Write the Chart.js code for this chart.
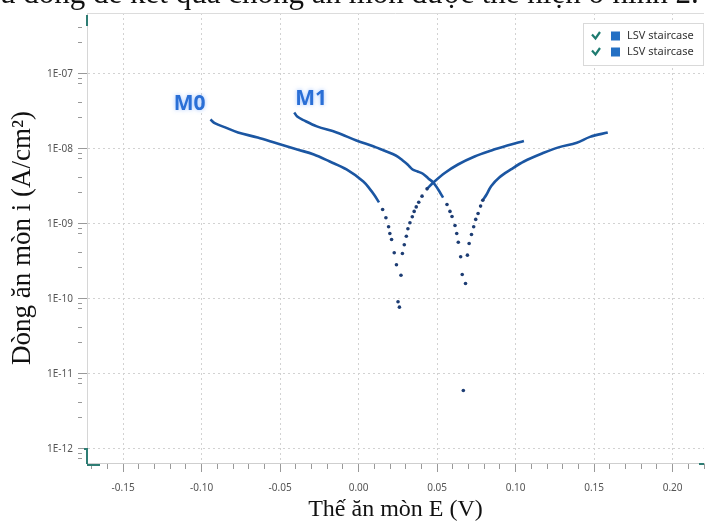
<!DOCTYPE html>
<html><head><meta charset="utf-8">
<script src="https://cdn.jsdelivr.net/npm/chart.js@4.4.0/dist/chart.umd.min.js"></script>
<style>
html,body{margin:0;padding:0;background:#fff;overflow:hidden}
#wrap{position:relative;width:714px;height:525px;overflow:hidden}
canvas{position:absolute;left:0;top:0}
#cap{position:absolute;left:0;top:-23px;white-space:nowrap;font-family:"Liberation Serif",serif;font-size:31px;line-height:31px;color:#111}
</style></head><body>
<div id="wrap"><canvas id="c" width="714" height="525"></canvas><div id="cap">u đồng đề kết quả chống ăn mòn được thể hiện ở hình 2.</div></div>
<script>
// ---- axis ranges and ticks ----
const xMin = -0.173, xMax = 0.22;
const yMin = 6.5e-13, yMax = 6.5e-7;
const xMajor = [-0.15, -0.10, -0.05, 0.00, 0.05, 0.10, 0.15, 0.20];
const xMinorStep = 0.01;
const yDecadeExp = [-12, -11, -10, -9, -8, -7];
const yMinorMant = [2.6, 4.2, 7.4, 8.6];
const seriesLabels = ['LSV staircase', 'LSV staircase'];
const curveNames = ['M0', 'M1'];
const nameE = [-0.1076, -0.0303];
const nameI = [4.0e-8, 4.6e-8];

// ---- M0 ----
const m0CathE = [-0.0944,-0.0913,-0.0850,-0.0768,-0.0643,-0.0517,-0.0391,-0.0285,-0.0184,-0.0077,0.0030,0.0072,0.0100,0.0130];
const m0CathI = [2.47e-8,2.19e-8,1.94e-8,1.66e-8,1.42e-8,1.18e-8,9.84e-9,8.45e-9,6.81e-9,5.33e-9,3.69e-9,2.92e-9,2.44e-9,1.94e-9];
const m0DotE = [0.0153,0.0174,0.0191,0.0199,0.0210,0.0227,0.0241,0.0251,0.0260,0.0270,0.0279,0.0291,0.0304,0.0314,0.0327,0.0342,0.0354,0.0367,0.0383,0.0404,0.0436];
const m0DotI = [1.56e-9,1.21e-9,9.18e-10,7.46e-10,6.21e-10,4.13e-10,2.86e-10,9.19e-11,7.78e-11,2.07e-10,4.04e-10,5.28e-10,6.87e-10,8.63e-10,1.04e-9,1.25e-9,1.47e-9,1.69e-9,1.95e-9,2.35e-9,2.94e-9];
const m0AnoE = [0.0436,0.0476,0.0551,0.0633,0.0739,0.0846,0.0947,0.1053];
const m0AnoI = [2.94e-9,3.57e-9,4.82e-9,6.21e-9,7.94e-9,9.55e-9,1.11e-8,1.28e-8];

// ---- M1 ----
const m1CathE = [-0.0410,-0.0391,-0.0347,-0.0266,-0.0140,-0.0014,0.0111,0.0237,0.0281,0.0312,0.0344,0.0375,0.0407,0.0444,0.0476,0.0507,0.0538];
const m1CathI = [3.07e-8,2.71e-8,2.40e-8,2.00e-8,1.66e-8,1.30e-8,1.05e-8,8.19e-9,7.03e-9,6.21e-9,5.33e-9,5.01e-9,4.71e-9,4.05e-9,3.57e-9,2.88e-9,2.25e-9];
const m1DotE = [0.0563,0.0582,0.0595,0.0614,0.0625,0.0635,0.0650,0.0660,0.0667,0.0681,0.0693,0.0704,0.0719,0.0733,0.0746,0.0761,0.0777,0.0791];
const m1DotI = [1.82e-9,1.47e-9,1.26e-9,9.55e-10,7.46e-10,5.71e-10,3.66e-10,2.12e-10,6.03e-12,1.61e-10,3.84e-10,5.50e-10,7.24e-10,9.18e-10,1.15e-9,1.38e-9,1.73e-9,2.07e-9];
const m1AnoE = [0.0791,0.0815,0.0844,0.0896,0.0970,0.1053,0.1179,0.1273,0.1390,0.1474,0.1587];
const m1AnoI = [2.07e-9,2.47e-9,3.19e-9,4.17e-9,5.33e-9,6.81e-9,8.89e-9,1.05e-8,1.21e-8,1.45e-8,1.66e-8];

const lineColor = '#1b56a2';
const dotColor = '#1d3d74';

function pts(E, I){ return E.map((x,k)=>({x:x, y:I[k]})); }
function lineDs(E, I){ return {data:pts(E,I), showLine:true, borderColor:lineColor, borderWidth:2.6, pointRadius:0, tension:0.35, fill:false}; }
function dotDs(E, I){ return {data:pts(E,I), showLine:false, pointRadius:1.8, pointBackgroundColor:dotColor, pointBorderWidth:0, pointBorderColor:dotColor}; }

const xTickVals = [];
for (let k = Math.ceil(xMin / xMinorStep - 1e-9); k <= Math.floor(xMax / xMinorStep + 1e-9); k++) xTickVals.push(+(k * xMinorStep).toFixed(2));
const isXMajor = v => xMajor.some(m => Math.abs(m - v) < 1e-9);

const yTickVals = [];
for (let e = yDecadeExp[0] - 1; e <= yDecadeExp[yDecadeExp.length-1]; e++) {
  [1].concat(yMinorMant).forEach(m => { const v = m * Math.pow(10, e); if (v >= yMin && v <= yMax) yTickVals.push(v); });
}
yTickVals.sort((a,b)=>a-b);
const isDecade = v => Math.abs(Math.log10(v) - Math.round(Math.log10(v))) < 1e-6;

const decor = {
  id: 'decor',
  beforeDatasetsDraw(chart){
    const {ctx, chartArea:ca} = chart;
    ctx.save();
    ctx.strokeStyle = '#dcdcdc'; ctx.lineWidth = 1;
    ctx.beginPath(); ctx.moveTo(ca.left, ca.top + 0.5); ctx.lineTo(ca.right, ca.top + 0.5); ctx.stroke();
    ctx.restore();
  },
  afterDatasetsDraw(chart){
    const {ctx, scales} = chart;
    ctx.save();
    ctx.font = 'bold 21px "Open Sans", sans-serif';
    ctx.textAlign = 'center'; ctx.textBaseline = 'middle';
    ctx.fillStyle = '#2a6fd6';
    ctx.shadowColor = 'rgba(120,170,255,0.7)'; ctx.shadowBlur = 4;
    curveNames.forEach((n,k)=>{ ctx.fillText(n, scales.x.getPixelForValue(nameE[k]), scales.y.getPixelForValue(nameI[k])); });
    ctx.restore();
  },
  afterDraw(chart){
    const {ctx, chartArea:ca} = chart;
    ctx.save();
    // teal axis end marks
    ctx.strokeStyle = '#2e7d74'; ctx.lineWidth = 2;
    ctx.beginPath();
    ctx.moveTo(ca.left - 3, ca.bottom - 14); ctx.lineTo(ca.left, ca.bottom - 14); ctx.lineTo(ca.left, ca.bottom + 1);
    ctx.moveTo(ca.left, ca.bottom + 2); ctx.lineTo(ca.left + 13, ca.bottom + 2);
    ctx.moveTo(ca.left, ca.top + 2); ctx.lineTo(ca.left, ca.top + 13);
    ctx.moveTo(ca.right - 5, ca.bottom + 1); ctx.lineTo(ca.right, ca.bottom + 1);
    ctx.stroke();
    // legend
    const bw = 120, bh = 42, bx = ca.right - bw - 1, by = ca.top + 10;
    ctx.fillStyle = '#fff'; ctx.fillRect(bx, by, bw, bh);
    ctx.strokeStyle = '#d9d9d9'; ctx.lineWidth = 1; ctx.strokeRect(bx + 0.5, by + 0.5, bw, bh);
    seriesLabels.forEach((lab, k) => {
      const ry = by + 13 + k * 16;
      ctx.strokeStyle = '#1e7b70'; ctx.lineWidth = 2.2;
      ctx.beginPath(); ctx.moveTo(bx + 9, ry - 1.5); ctx.lineTo(bx + 12.5, ry + 2.5); ctx.lineTo(bx + 17, ry - 4); ctx.stroke();
      ctx.fillStyle = '#2470c4'; ctx.fillRect(bx + 28, ry - 4.5, 9, 9);
      ctx.fillStyle = '#333'; ctx.font = '11px "Noto Sans", sans-serif'; ctx.textAlign = 'left'; ctx.textBaseline = 'middle';
      ctx.fillText(lab, bx + 44, ry);
    });
    ctx.restore();
  }
};

new Chart(document.getElementById('c'), {
  type: 'scatter',
  data: { datasets: [
    lineDs(m0CathE, m0CathI), dotDs(m0DotE, m0DotI), lineDs(m0AnoE, m0AnoI),
    lineDs(m1CathE, m1CathI), dotDs(m1DotE, m1DotI), lineDs(m1AnoE, m1AnoI)
  ]},
  options: {
    responsive: false, animation: false, devicePixelRatio: 1,
    layout: { padding: { top: 13, right: 1, left: 0, bottom: 0 } },
    plugins: { legend: { display: false }, tooltip: { enabled: false } },
    scales: {
      x: {
        type: 'linear', min: xMin, max: xMax,
        afterFit(s){ s.height = 62; },
        afterBuildTicks(s){ s.ticks = xTickVals.map(v => ({value: v})); },
        ticks: { autoSkip: false, maxRotation: 0, padding: 10, color: '#555',
          font: { family: 'Noto Sans', size: 10 },
          callback: v => isXMajor(v) ? v.toFixed(2) : '' },
        grid: { color: c => (c.tick && isXMajor(c.tick.value)) ? '#d2d2d2' : 'rgba(0,0,0,0)',
          tickColor: '#999', tickLength: 9, lineWidth: 1,
          tickBorderDash: c => (c.tick && isXMajor(c.tick.value)) ? [] : [5, 30] },
        border: { color: '#cfcfcf', dash: c => c.type === 'tick' ? [2, 3] : [] },
        title: { display: true, text: 'Thế ăn mòn E (V)', color: '#111',
          font: { family: 'Liberation Serif', size: 24 }, padding: { top: 0, bottom: 1 } }
      },
      y: {
        type: 'logarithmic', min: yMin, max: yMax,
        afterFit(s){ s.width = 87; },
        afterBuildTicks(s){ s.ticks = yTickVals.map(v => ({value: v})); },
        ticks: { autoSkip: false, padding: 5, color: '#555',
          font: { family: 'Noto Sans', size: 10 },
          callback: v => isDecade(v) ? '1E-' + String(-Math.round(Math.log10(v))).padStart(2, '0') : '' },
        grid: { color: c => (c.tick && isDecade(c.tick.value)) ? '#d2d2d2' : 'rgba(0,0,0,0)',
          tickColor: '#999', tickLength: 9, lineWidth: 1,
          tickBorderDash: c => (c.tick && isDecade(c.tick.value)) ? [] : [4, 30] },
        border: { color: '#d6d6d6', dash: c => c.type === 'tick' ? [2, 3] : [] },
        title: { display: true, text: 'Dòng ăn mòn i (A/cm²)', color: '#111',
          font: { family: 'Liberation Serif', size: 27 }, padding: { top: 7, bottom: 0 } }
      }
    }
  },
  plugins: [decor]
});
</script>
</body></html>
